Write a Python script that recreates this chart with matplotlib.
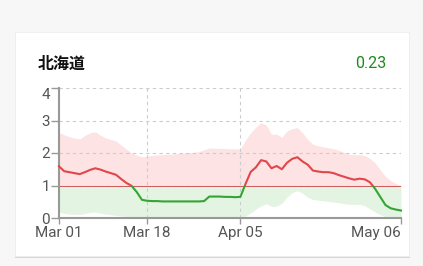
import numpy as np
import matplotlib
matplotlib.use("Agg")
import matplotlib.pyplot as plt
from matplotlib.patches import Rectangle

plt.rcParams['font.family'] = ['Roboto', 'Noto Sans CJK JP', 'DejaVu Sans']

# days since Mar 01
days = np.arange(67)
rt = [1.59, 1.44, 1.41, 1.38, 1.35, 1.41, 1.48, 1.53, 1.49, 1.43,
      1.38, 1.33, 1.20, 1.08, 0.99, 0.80, 0.56, 0.53, 0.52, 0.52,
      0.51, 0.51, 0.51, 0.51, 0.51, 0.51, 0.51, 0.51, 0.52, 0.66,
      0.66, 0.66, 0.65, 0.65, 0.64, 0.65, 1.05, 1.42, 1.56, 1.78,
      1.74, 1.53, 1.60, 1.50, 1.70, 1.82, 1.87, 1.74, 1.64, 1.46,
      1.43, 1.41, 1.41, 1.38, 1.32, 1.27, 1.22, 1.18, 1.21, 1.19,
      1.10, 0.90, 0.65, 0.40, 0.30, 0.26, 0.23]
upper = [2.63, 2.56, 2.50, 2.46, 2.43, 2.54, 2.62, 2.65, 2.55, 2.46,
         2.42, 2.37, 2.24, 2.12, 2.00, 1.93, 1.88, 1.90, 1.93, 1.94,
         1.95, 1.96, 1.97, 1.98, 2.00, 2.01, 2.02, 2.04, 2.10, 2.15,
         2.15, 2.14, 2.14, 2.13, 2.13, 2.12, 2.40, 2.62, 2.80, 2.93,
         2.86, 2.58, 2.58, 2.48, 2.68, 2.75, 2.78, 2.62, 2.42, 2.27,
         2.22, 2.19, 2.16, 2.13, 2.08, 2.02, 1.96, 1.95, 1.95, 1.92,
         1.83, 1.70, 1.48, 1.28, 1.15, 1.06, 1.00]
lower = [0.18, 0.14, 0.12, 0.11, 0.11, 0.14, 0.17, 0.18, 0.15, 0.12,
         0.10, 0.08, 0.06, 0.05, 0.03, 0.02, 0.01, 0.0, 0.0, 0.0,
         0.0, 0.0, 0.0, 0.0, 0.0, 0.0, 0.0, 0.0, 0.0, 0.0,
         0.0, 0.0, 0.0, 0.0, 0.0, 0.0, 0.06, 0.16, 0.28, 0.37,
         0.44, 0.36, 0.36, 0.45, 0.64, 0.78, 0.84, 0.76, 0.64, 0.57,
         0.55, 0.53, 0.51, 0.49, 0.47, 0.44, 0.42, 0.42, 0.42, 0.38,
         0.28, 0.18, 0.10, 0.04, 0.0, 0.0, 0.0]
tick_days = [0, 17, 35, 66]
tick_labels = ['Mar 01', 'Mar 18', 'Apr 05', 'May 06']
title = '北海道'
latest = '0.23'

W, H = 423, 266
fig = plt.figure(figsize=(W / 100, H / 100), dpi=100)
fig.patch.set_facecolor('#f7f7f7')

# card with a soft shadow
fig.patches.append(Rectangle((15 / W, 1 - 258 / H), 395 / W, 225 / H,
                             transform=fig.transFigure, facecolor='#d6d6d6',
                             edgecolor='none', zorder=-10))
fig.patches.append(Rectangle((15 / W, 1 - 256 / H), 394 / W, 224 / H,
                             transform=fig.transFigure, facecolor='white',
                             edgecolor='#eeeeee', linewidth=0.6, zorder=-9))

ax = fig.add_axes([59 / W, 1 - 218 / H, 342 / W, 130 / H])
ax.set_facecolor('none')

red = '#e0474c'
green = '#33a532'
above = Rectangle((-10, 1), 100, 10, transform=ax.transData)
below = Rectangle((-10, -10), 100, 11, transform=ax.transData)

f1 = ax.fill_between(days, lower, upper, color='#fde3e3', linewidth=0, zorder=1)
f1.set_clip_path(above)
f2 = ax.fill_between(days, lower, upper, color='#e4f4e2', linewidth=0, zorder=1)
f2.set_clip_path(below)

l1, = ax.plot(days, rt, color=red, linewidth=1.5, zorder=3)
l1.set_clip_path(above)
l2, = ax.plot(days, rt, color=green, linewidth=1.5, zorder=3)
l2.set_clip_path(below)
ax.axhline(1, color='#d05a5a', linewidth=0.7, zorder=2)

ax.set_xlim(0, 66)
ax.set_ylim(0, 4)
ax.set_xticks(tick_days)
ax.set_xticklabels(tick_labels)
ax.set_yticks([0, 1, 2, 3, 4])
ax.grid(True, linestyle=(0, (3, 3)), color='#cccccc', linewidth=0.8)
for s in ['top', 'right']:
    ax.spines[s].set_visible(False)
for s in ['left', 'bottom']:
    ax.spines[s].set_color('#999999')
    ax.spines[s].set_linewidth(1.5)
ax.tick_params(colors='#999999', labelcolor='#555555', labelsize=11,
               length=6, width=1, pad=0.5)
ax.tick_params(axis='x', length=4, pad=2)
ax.get_xticklabels()[-1].set_ha('right')
ax.get_yticklabels()[-1].set_va('top')

fig.text(38 / W, 1 - 64 / H, title, fontsize=11.5, fontweight='bold',
         family=['Noto Sans CJK JP'], va='center', ha='left', color='#111111')
fig.text(386 / W, 1 - 63 / H, latest, fontsize=11.5, color='#1e8a1e',
         va='center', ha='right')

fig.savefig('out.png', dpi=100, facecolor=fig.get_facecolor())
